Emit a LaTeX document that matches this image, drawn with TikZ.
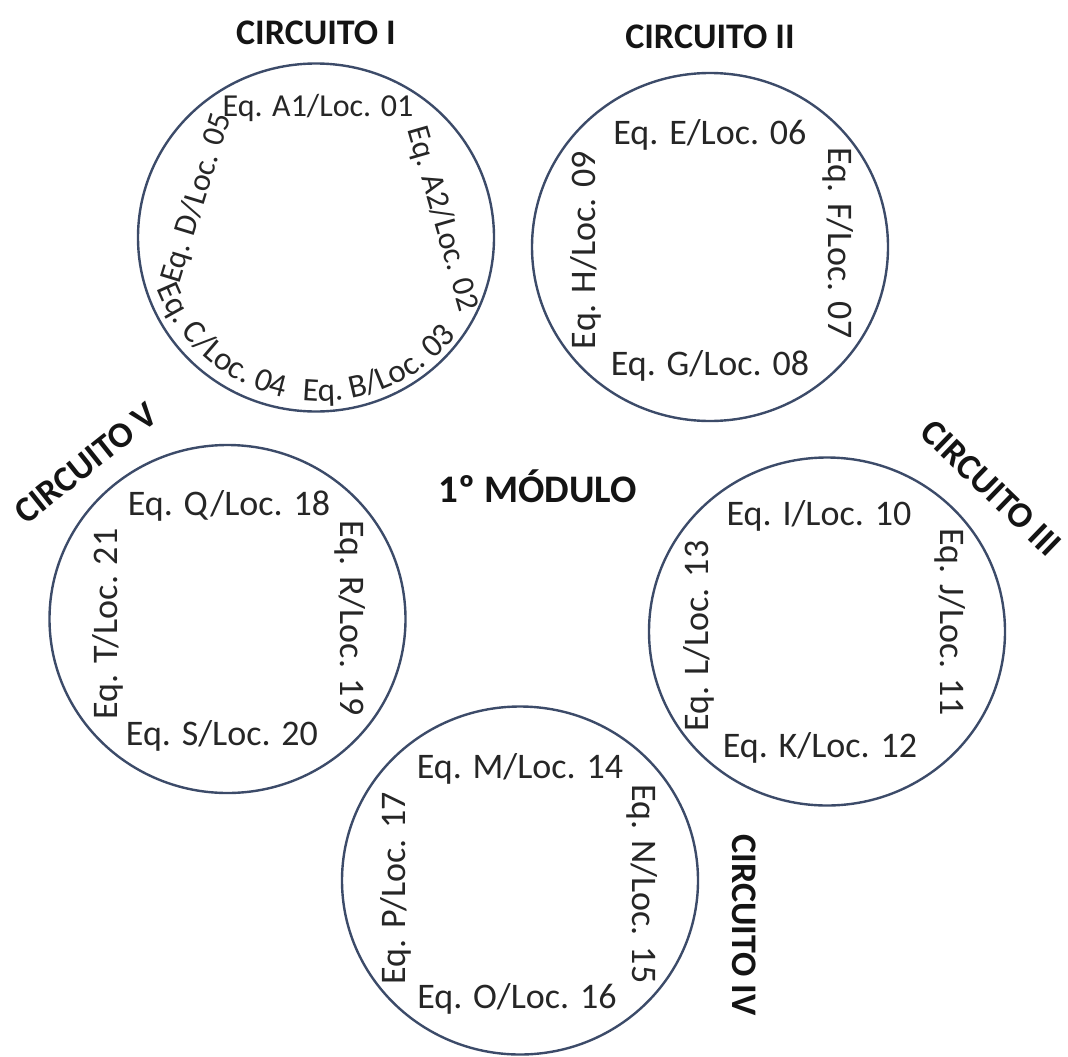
\documentclass[tikz,border=0pt]{standalone}
\usepackage{fontspec}
\setmainfont{Carlito}
\usetikzlibrary{shapes.geometric,decorations.text}
\definecolor{ringcol}{RGB}{60,75,105}
\definecolor{lblcol}{RGB}{38,38,38}
\definecolor{ttlcol}{RGB}{20,20,20}
\newcommand{\lblfont}{\fontsize{36}{43}\selectfont}
\newcommand{\smlfont}{\fontsize{32}{38}\selectfont}
\newcommand{\arcfont}{\fontsize{33}{39}\selectfont}
\newcommand{\ttlfont}{\fontsize{36}{43}\selectfont\bfseries}
\begin{document}
\begin{tikzpicture}[x=1pt,y=1pt,
 ring/.style={ellipse, draw=ringcol, line width=2.4pt, minimum width=356pt, minimum height=348pt, inner sep=0pt},
 lbl/.style={font=\lblfont, text=lblcol, inner sep=0pt, anchor=base},
 sml/.style={font=\smlfont, text=lblcol, inner sep=0pt},
 ttl/.style={font=\ttlfont, text=ttlcol, inner sep=0pt}]
\useasboundingbox (0,0) rectangle (1068,-1057);
% rings
\node[ring] (c1) at (316,-237.5) {};
\node[ring] (c2) at (710,-247) {};
\node[ring] (c5) at (227.5,-619) {};
\node[ring] (c3) at (827,-631.5) {};
\node[ring] (c4) at (520,-880.5) {};
% titles
\node[ttl] (t1) at (316,-33) {CIRCUITO I};
\node[ttl] (t2) at (710,-37) {CIRCUITO II};
\node[ttl, rotate=38.5] (t5) at (86,-463) {CIRCUITO V};
\node[ttl, rotate=-44] (t3) at (991,-488) {CIRCUITO III};
\node[ttl, rotate=-90] (t4) at (744,-925) {CIRCUITO IV};
\node[ttl, anchor=base] (mod) at (538,-502) {\fontsize{39}{46}\selectfont 1º MÓDULO};
% circuit I
\node[sml, anchor=base] (a1) at (318,-116) {Eq. A1/Loc. 01};
\node[sml, rotate=-74] (a2) at (442,-219) {Eq. A2/Loc. 02};
\node[sml, rotate=73] (d5) at (197,-198) {Eq. D/Loc. 05};
\coordinate (arcc) at (320.5,-226);
\path[decorate, decoration={text along path, text={|\arcfont|Eq. C/Loc. 04}, text color=lblcol, text align=center}]
  (arcc) ++(196.5:175) arc[start angle=196.5, end angle=262.5, radius=175];
\path[decorate, decoration={text along path, text={|\arcfont|Eq. B/Loc. 03}, text color=lblcol, text align=center}]
  (arcc) ++(259.5:175) arc[start angle=259.5, end angle=325.5, radius=175];
% circuit II
\node[lbl] (e6) at (710,-144) {Eq. E/Loc. 06};
\node[lbl] (g8) at (710,-375) {Eq. G/Loc. 08};
\node[lbl, rotate=-90] (f7) at (828,-243) {Eq. F/Loc. 07};
\node[lbl, rotate=90] (h9) at (595,-250) {Eq. H/Loc. 09};
% circuit V
\node[lbl] (q18) at (229,-515) {Eq. Q/Loc. 18};
\node[lbl] (s20) at (222,-745) {Eq. S/Loc. 20};
\node[lbl, rotate=-90] (r19) at (340,-618) {Eq. R/Loc. 19};
\node[lbl, rotate=90] (t21) at (117,-624) {Eq. T/Loc. 21};
% circuit III
\node[lbl] (i10) at (819,-525) {Eq. I/Loc. 10};
\node[lbl] (k12) at (820,-757) {Eq. K/Loc. 12};
\node[lbl, rotate=-90] (j11) at (940,-622) {Eq. J/Loc. 11};
\node[lbl, rotate=90] (l13) at (708,-636) {Eq. L/Loc. 13};
% circuit IV
\node[lbl] (m14) at (520,-778) {Eq. M/Loc. 14};
\node[lbl] (o16) at (517,-1008) {Eq. O/Loc. 16};
\node[lbl, rotate=-90] (n15) at (632,-884) {Eq. N/Loc. 15};
\node[lbl, rotate=90] (p17) at (405,-888) {Eq. P/Loc. 17};
\end{tikzpicture}
\end{document}
